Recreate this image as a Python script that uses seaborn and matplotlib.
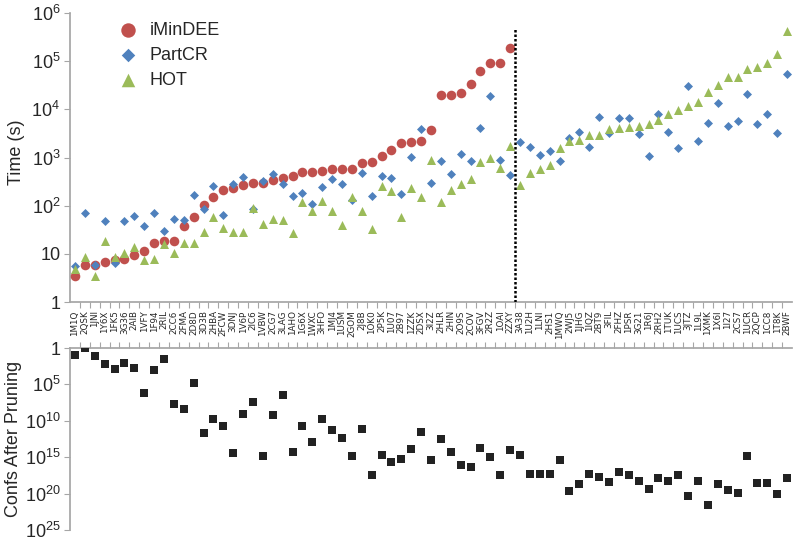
import numpy as np
import pandas as pd
import seaborn as sns
import matplotlib.pyplot as plt
from matplotlib.ticker import FixedLocator, NullLocator

# PDB design systems, in plotted order
systems = [
    "1M1Q", "2QSK", "1JNI", "1Y6X", "1FK5", "3G36", "2AIB", "1VFY", "1F94", "2RIL",
    "2CC6", "2FMA", "2D8D", "3D3B", "2HBA", "2FCW", "3DNJ", "1V6P", "2IC6", "1VBW",
    "2CG7", "3LAG", "1AHO", "1G6X", "1WXC", "3HFO", "1MJ4", "1USM", "2GOM", "2J8B",
    "1OK0", "2P5K", "1U07", "2B97", "1ZZK", "2DSX", "3I2Z", "2HLR", "2HIN", "2O9S",
    "2COV", "3FGV", "2R2Z", "1OAI", "2ZXY", "3A38", "1U2H", "1LNI", "2HS1", "1MWQ",
    "2WJ5", "1JHG", "1IQZ", "2BT9", "3FIL", "2FHZ", "1PSR", "3G21", "1R6J", "2RH2",
    "1TUK", "1UCS", "3JTZ", "1L9L", "1XMK", "1X6I", "1I27", "2CS7", "1UCR", "2QCP",
    "1CC8", "1T8K", "2BWF",
]

# time in seconds (iMinDEE only finished for the first 45 systems)
imindee = [
    3.5, 5.8, 6.0, 6.9, 7.6, 8.0, 9.5, 11.5, 16.5, 18.3,
    18.3, 38, 58, 103, 155, 215, 232, 272, 296, 296,
    349, 375, 410, 500, 500, 535, 567, 585, 585, 760,
    797, 1100, 1445, 2020, 2150, 2200, 3800, 19500, 19500, 22200,
    33800, 61500, 91000, 94000, 185000,
]
partcr = [
    5.7, 71, 6.0, 48, 6.6, 48, 61, 38, 69, 30,
    52, 50, 165, 84, 262, 64, 280, 392, 84, 320,
    447, 287, 157, 183, 110, 244, 352, 287, 134, 484,
    157, 405, 382, 178, 1035, 3900, 300, 843, 447, 1200,
    830, 4100, 19300, 910, 441, 2130, 1650, 1110, 1360, 860,
    2590, 3360, 1650, 6970, 3260, 6500, 6500, 3060, 1070, 7950,
    3470, 1570, 30300, 2160, 5100, 13900, 4470, 5760, 20700, 4930,
    7950, 3170, 55600,
]
hot = [
    4.9, 8.8, 3.5, 18.9, 8.5, 10.6, 13.7, 7.6, 7.9, 16,
    10.3, 16.9, 16.9, 28, 57, 34, 29, 28.5, 91, 42.6,
    54, 50, 27.7, 119, 78, 123, 78, 39, 151, 78,
    32.5, 252, 199, 57, 237, 151, 910, 119, 209, 277,
    365, 803, 990, 603, 1700, 272, 472, 590, 700, 1590,
    2200, 2310, 2900, 2900, 3970, 4210, 4340, 4630, 4930, 5970,
    8220, 9620, 11650, 14100, 22700, 31800, 47300, 47300, 70500, 76200,
    92200, 144000, 419000,
]
# conformations after pruning, as log10
conf_log10 = [
    0.9, 0.0, 1.14, 2.14, 2.87, 2.05, 2.73, 6.23, 2.96, 1.46,
    7.74, 8.42, 4.78, 11.7, 9.69, 10.7, 14.42, 9.1, 7.42, 14.8,
    9.2, 6.46, 14.24, 10.78, 12.96, 9.69, 11.28, 12.41, 14.8, 11.15,
    17.5, 14.65, 15.69, 15.24, 13.87, 11.5, 15.37, 12.5, 14.3, 16.05,
    16.37, 13.78, 14.92, 17.42, 13.96, 14.65, 17.33, 17.33, 17.33, 15.37,
    19.65, 18.65, 17.28, 17.65, 18.42, 16.97, 17.51, 18.33, 19.42, 17.83,
    18.2, 17.42, 20.38, 18.2, 21.6, 18.65, 19.56, 19.92, 14.87, 18.56,
    18.56, 20.1, 17.83,
]

pos = np.arange(len(systems))
df = pd.DataFrame({"pos": pos, "system": systems, "PartCR": partcr, "HOT": hot})
df["iMinDEE"] = pd.Series(imindee, dtype=float)
df["confs"] = 10.0 ** np.array(conf_log10)

sns.set_theme(style="white")
plt.rcParams["font.family"] = ["Liberation Sans", "DejaVu Sans"]
plt.rcParams["mathtext.fontset"] = "custom"
plt.rcParams["mathtext.rm"] = "Liberation Sans"
plt.rcParams["mathtext.it"] = "Liberation Sans:italic"

gray = "#a6a6a6"
fig = plt.figure(figsize=(8, 5.42), dpi=100)
ax = fig.add_axes([0.0875, 0.4428, 0.9025, 0.533])
ax2 = fig.add_axes([0.0875, 0.0221, 0.9025, 0.3358])

sns.scatterplot(data=df, x="pos", y="iMinDEE", ax=ax, marker="o", s=48,
                color="#c0504d", linewidth=0, label="iMinDEE", zorder=3)
sns.scatterplot(data=df, x="pos", y="PartCR", ax=ax, marker="D", s=21,
                color="#4f81bd", linewidth=0, label="PartCR", zorder=4)
sns.scatterplot(data=df, x="pos", y="HOT", ax=ax, marker="^", s=42,
                color="#9bbb59", linewidth=0, label="HOT", zorder=5)
ax.axvline(44.5, ymax=0.95, color="black", linestyle=(0, (1, 0.8)), lw=1.8, zorder=6)

ax.set_yscale("log")
ax.set_ylim(1, 1e6)
ax.set_xlim(-0.5, len(systems) - 0.5)
ax.yaxis.set_major_locator(FixedLocator([10.0 ** k for k in range(7)]))
ax.yaxis.set_minor_locator(NullLocator())
ax.set_yticklabels(["1", "10"] + [r"$\mathregular{10^{%d}}$" % k for k in range(2, 7)])
ax.set_xticks(pos)
ax.set_xticklabels(systems, rotation=90, fontsize=6.3, family="DejaVu Sans")
ax.xaxis.set_minor_locator(FixedLocator(pos[:-1] + 0.5))
ax.tick_params(axis="x", which="major", length=0, pad=6)
ax.tick_params(axis="x", which="minor", length=4, width=0.8, color=gray, bottom=True)
ax.tick_params(axis="y", length=4, width=0.8, color=gray, left=True, labelsize=13, pad=3)
for side in ["top", "right"]:
    ax.spines[side].set_visible(False)
for side in ["left", "bottom"]:
    ax.spines[side].set_color(gray)
ax.set_ylabel("Time (s)", fontsize=13)
ax.yaxis.set_label_coords(-0.062, 0.52)
ax.set_xlabel("PDB Design System", fontsize=12.5)
ax.xaxis.set_label_coords(0.496, -0.17)

leg = ax.legend(loc="upper left", bbox_to_anchor=(0.043, 1.027), frameon=False,
                fontsize=13, markerscale=1.5, handlelength=1.2, handletextpad=0.6,
                labelspacing=0.45)

sns.scatterplot(data=df, x="pos", y="confs", ax=ax2, marker="s", s=34,
                color="#222222", linewidth=0, zorder=3)
ax2.set_yscale("log")
ax2.set_ylim(1e25, 1)
ax2.set_xlim(-0.5, len(systems) - 0.5)
ax2.yaxis.set_major_locator(FixedLocator([10.0 ** k for k in range(0, 26, 5)]))
ax2.yaxis.set_minor_locator(NullLocator())
ax2.set_yticklabels(["1"] + [r"$\mathregular{10^{%d}}$" % k for k in range(5, 26, 5)])
ax2.xaxis.tick_top()
ax2.set_xticks(pos)
ax2.xaxis.set_minor_locator(FixedLocator(pos[:-1] + 0.5))
ax2.tick_params(axis="x", which="major", length=0, labeltop=False, labelbottom=False)
ax2.tick_params(axis="x", which="minor", length=4, width=0.8, color=gray, top=True, bottom=False)
ax2.tick_params(axis="y", length=4, width=0.8, color=gray, left=True, labelsize=13, pad=3)
for side in ["bottom", "right"]:
    ax2.spines[side].set_visible(False)
for side in ["left", "top"]:
    ax2.spines[side].set_color(gray)
ax2.set_xlabel("")
ax2.set_ylabel("Confs After Pruning", fontsize=13)
ax2.yaxis.set_label_coords(-0.066, 0.5)

fig.savefig("out.png", dpi=100)
